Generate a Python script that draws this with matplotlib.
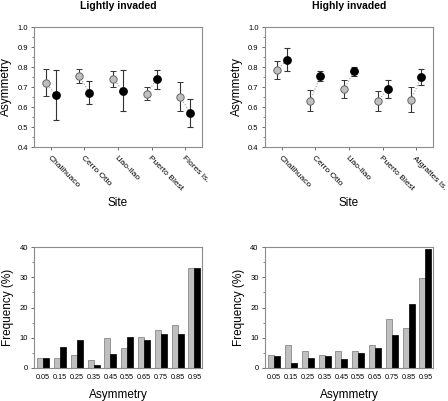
import numpy as np
import matplotlib.pyplot as plt
from matplotlib.ticker import MultipleLocator

plt.rcParams['font.family'] = ['Liberation Sans', 'DejaVu Sans']

sites_light = ['Chalihuaco', 'Cerro Otto', 'Llao-llao', 'Puerto Blest', 'Flores Is.']
sites_high = ['Chalihuaco', 'Cerro Otto', 'Llao-llao', 'Puerto Blest', 'Algrattes Is.']

# lightly invaded: mean, lower, upper (grey / black)
light_grey = [0.722, 0.755, 0.742, 0.666, 0.651]
light_grey_lo = [0.655, 0.720, 0.700, 0.635, 0.578]
light_grey_hi = [0.790, 0.790, 0.780, 0.698, 0.727]
light_black = [0.660, 0.671, 0.681, 0.739, 0.570]
light_black_lo = [0.535, 0.615, 0.580, 0.690, 0.500]
light_black_hi = [0.785, 0.728, 0.785, 0.785, 0.638]

high_grey = [0.785, 0.632, 0.688, 0.628, 0.637]
high_grey_lo = [0.738, 0.578, 0.645, 0.578, 0.575]
high_grey_hi = [0.832, 0.685, 0.733, 0.678, 0.700]
high_black = [0.835, 0.755, 0.778, 0.688, 0.750]
high_black_lo = [0.778, 0.728, 0.755, 0.645, 0.710]
high_black_hi = [0.893, 0.780, 0.800, 0.733, 0.790]

bins = ['0.05', '0.15', '0.25', '0.35', '0.45', '0.55', '0.65', '0.75', '0.85', '0.95']
freq_light_grey = [3.3, 3.3, 4.3, 2.5, 10.0, 6.6, 10.3, 12.6, 14.3, 33.0]
freq_light_black = [3.3, 6.8, 9.1, 1.1, 4.5, 10.2, 9.1, 11.3, 11.3, 33.0]
freq_high_grey = [4.4, 7.6, 5.6, 4.3, 5.6, 5.6, 7.6, 16.3, 13.3, 29.6]
freq_high_black = [4.1, 1.8, 3.4, 4.1, 3.1, 5.0, 6.6, 11.0, 21.2, 39.4]

W, H = 448, 401
fig = plt.figure(figsize=(W / 100, H / 100), dpi=100)

def box(l, t, r, b):
    return [l / W, (H - b) / H, (r - l) / W, (b - t) / H]

grey = '#bfbfbf'
spine_c = '#8c8c8c'

def style(ax):
    for s in ax.spines.values():
        s.set_color(spine_c)
        s.set_linewidth(0.8)
    ax.tick_params(labelsize=5.5, length=2.5, width=0.6, color='#555555', pad=2)
    ax.tick_params(which='minor', length=1.5, width=0.5, color='#555555')

def site_panel(rect, title, sites, g, glo, ghi, k, klo, khi):
    ax = fig.add_axes(rect)
    x = np.arange(1, len(sites) + 1)
    d = 0.15
    for i in range(len(sites)):
        ax.plot([x[i] - d, x[i] + d], [g[i], k[i]], ':', color='#999999', lw=0.8, zorder=1)
    g = np.array(g); k = np.array(k)
    ax.errorbar(x - d, g, yerr=[g - np.array(glo), np.array(ghi) - g], fmt='o',
                mfc=grey, mec='#666666', mew=0.7, ms=5.3, ecolor='#333333',
                elinewidth=0.8, capsize=2, capthick=0.8, zorder=2)
    ax.errorbar(x + d, k, yerr=[k - np.array(klo), np.array(khi) - k], fmt='o',
                mfc='black', mec='black', ms=5.3, ecolor='#333333',
                elinewidth=0.8, capsize=2, capthick=0.8, zorder=3)
    ax.set_xlim(0.5, 5.5)
    ax.set_ylim(0.4, 1.0)
    ax.yaxis.set_major_locator(MultipleLocator(0.1))
    ax.yaxis.set_minor_locator(MultipleLocator(0.05))
    ax.set_xticks(x)
    ax.set_xticklabels(sites, rotation=-45, ha='left', rotation_mode='anchor')
    style(ax)
    ax.tick_params(axis='x', labelsize=6, pad=3)
    ax.set_ylabel('Asymmetry', fontsize=8.5)
    ax.set_xlabel('Site', fontsize=8.5)
    ax.xaxis.set_label_coords(0.5, -0.42)
    ax.set_title(title, fontsize=7.5, fontweight='bold', pad=13)
    return ax

def hist_panel(rect, gv, kv):
    ax = fig.add_axes(rect)
    x = np.arange(len(bins))
    w = 0.36
    ax.bar(x - w / 2, gv, w, color=grey, edgecolor='#777777', linewidth=0.5)
    ax.bar(x + w / 2, kv, w, color='black', edgecolor='black', linewidth=0.5)
    ax.set_xlim(-0.55, 9.45)
    ax.set_ylim(0, 40)
    ax.yaxis.set_major_locator(MultipleLocator(10))
    ax.yaxis.set_minor_locator(MultipleLocator(5))
    ax.set_xticks(x)
    ax.set_xticklabels(bins)
    style(ax)
    ax.tick_params(axis='x', length=0, labelsize=5.2, pad=4)
    ax.set_ylabel('Frequency (%)', fontsize=8.5)
    ax.set_xlabel('Asymmetry', fontsize=8.5, labelpad=6)
    return ax

site_panel(box(34, 27, 202, 147), 'Lightly invaded', sites_light,
           light_grey, light_grey_lo, light_grey_hi, light_black, light_black_lo, light_black_hi)
site_panel(box(265, 27, 433, 147), 'Highly invaded', sites_high,
           high_grey, high_grey_lo, high_grey_hi, high_black, high_black_lo, high_black_hi)
hist_panel(box(34, 247, 202, 368), freq_light_grey, freq_light_black)
hist_panel(box(265, 247, 433, 368), freq_high_grey, freq_high_black)

fig.savefig('out.png', dpi=100)
